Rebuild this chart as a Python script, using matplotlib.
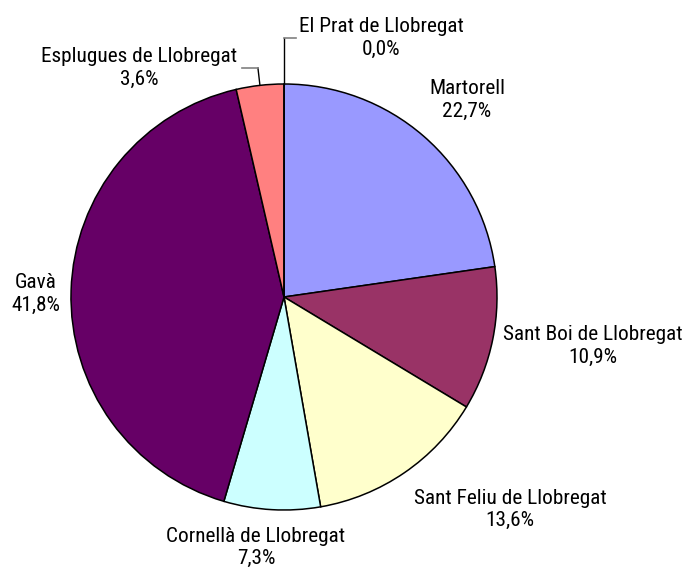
import numpy as np
import matplotlib
matplotlib.use("Agg")
import matplotlib.pyplot as plt
from matplotlib import font_manager

# data
names = ["Martorell", "Sant Boi de Llobregat", "Sant Feliu de Llobregat",
         "Cornellà de Llobregat", "Gavà", "Esplugues de Llobregat",
         "El Prat de Llobregat"]
shares = [22.7, 10.9, 13.6, 7.3, 41.8, 3.6, 0.0]
colors = ["#9999FF", "#993366", "#FFFFCC", "#CCFFFF", "#660066", "#FF8080", "#FFFFFF"]

# label centres in pixel coords (x, y from top)
label_pos = [(467, 100), (593, 346), (510, 509), (256, 547), (36, 294),
             (139, 68), (381, 38)]

W, H = 687, 572
cx, cy, r = 284, 297, 213

# pick a narrow sans font if one is around (reference uses Arial Narrow)
installed = {f.name for f in font_manager.fontManager.ttflist}
narrow = ['Liberation Sans Narrow', 'Arial Narrow', 'Roboto Condensed',
          'PT Sans Narrow', 'Archivo Narrow', 'Open Sans Condensed',
          'Sofia Sans Condensed', 'Encode Sans Condensed']
family = next((f for f in narrow if f in installed), 'Liberation Sans')

fig = plt.figure(figsize=(W / 100, H / 100), dpi=100)
ax = fig.add_axes([0, 0, 1, 1])

wedges, _ = ax.pie(shares, colors=colors, startangle=90, counterclock=False,
                   center=(cx, H - cy), radius=r,
                   wedgeprops=dict(edgecolor='black', linewidth=1.1))
ax.set_xlim(0, W)
ax.set_ylim(0, H)
ax.set_aspect('equal')
ax.axis('off')

for name, s, (lx, ly) in zip(names, shares, label_pos):
    txt = f"{name}\n{s:.1f}%".replace(".", ",")
    ax.text(lx, H - ly, txt, ha='center', va='center', fontsize=15.3,
            linespacing=1.2, color='black', family=[family, 'DejaVu Sans'])

# leader lines for the small slices: (slice, elbow height, end x)
for i, ey, ex in [(5, 68, 242), (6, 38, 296)]:
    w = wedges[i]
    mid = np.deg2rad((w.theta1 + w.theta2) / 2)
    px = cx + r * np.cos(mid)
    py = (H - cy) + r * np.sin(mid)
    elbow_x = px - 2 if i == 5 else px
    ax.plot([px, elbow_x], [py, H - ey], color='black', lw=1.0)
    ax.plot([elbow_x, ex], [H - ey, H - ey], color='#808080', lw=1.2)

fig.savefig("out.png", dpi=100)
